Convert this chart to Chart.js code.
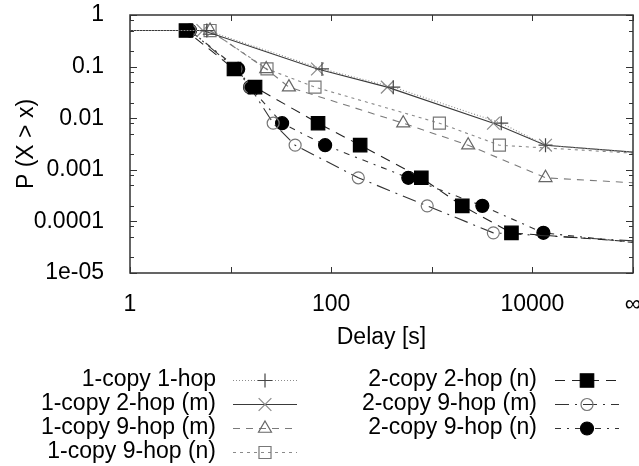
<!DOCTYPE html>
<html>
<head>
<meta charset="utf-8">
<script src="https://cdn.jsdelivr.net/npm/chart.js@4/dist/chart.umd.min.js"></script>
<style>
  html, body { margin: 0; padding: 0; background: #fff; }
  #wrap { position: relative; width: 639px; height: 466px; }
</style>
</head>
<body>
<div id="wrap"><canvas id="ccdf"></canvas></div>
<script>
// CCDF of delivery delay, one array pair per curve (x = delay in s, y = P(X > x))
// first point = left edge, last point = the "infinity" column
const c1h1X = [1, 5.8, 81, 414, 4900, 13500, 100000];
const c1h1Y = [0.5, 0.5, 0.09, 0.04, 0.008, 0.003, 0.0022];

const c1h2mX = [1, 5.3, 73, 361, 4100, 13500, 100000];
const c1h2mY = [0.5, 0.5, 0.09, 0.04, 0.008, 0.003, 0.0022];

const c1h9mX = [1, 6.25, 22.6, 38, 520, 2300, 13500, 100000];
const c1h9mY = [0.5, 0.5, 0.09, 0.04, 0.008, 0.003, 0.0007, 0.00056];

const c1h9nX = [1, 6.25, 23, 69, 1190, 4700, 100000];
const c1h9nY = [0.5, 0.5, 0.09, 0.04, 0.008, 0.003, 0.0021];

const c2h2nX = [1, 3.6, 10.8, 17.5, 74, 194, 787, 2010, 6190, 100000];
const c2h2nY = [0.5, 0.5, 0.09, 0.04, 0.008, 0.003, 0.0007, 0.0002, 0.00006, 0.00004];

const c2h9mX = [1, 3.95, 11.3, 15.6, 26.5, 43.8, 186, 900, 4090, 100000];
const c2h9mY = [0.5, 0.5, 0.09, 0.04, 0.008, 0.003, 0.0007, 0.0002, 0.00006, 0.000042];

const c2h9nX = [1, 3.95, 11.9, 15.6, 32.5, 87, 584, 3180, 12860, 100000];
const c2h9nY = [0.5, 0.5, 0.09, 0.04, 0.008, 0.003, 0.0007, 0.0002, 0.00006, 0.000039];

const seriesLabels = [
  '1-copy 1-hop', '1-copy 2-hop (m)', '1-copy 9-hop (m)', '1-copy 9-hop (n)',
  '2-copy 2-hop (n)', '2-copy 9-hop (m)', '2-copy 9-hop (n)'
];

const xTickValues = [1, 10, 100, 1000, 10000, 100000];
const xTickLabels = ['1', '', '100', '', '10000', '\u221e'];
const yTickValues = [1, 0.1, 0.01, 0.001, 0.0001, 0.00001];
const yTickLabels = ['1', '0.1', '0.01', '0.001', '0.0001', '1e-05'];
const yMinorSteps = [2, 5, 8];

const FONT = { family: '"Liberation Sans", Arial, Helvetica, sans-serif', size: 23 };

// look of each curve (same order as seriesLabels)
const looks = [
  { line: '#8c8c8c', dash: [1, 2], mark: '#444', bg: 'rgba(0,0,0,0)', style: 'cross', r: 7 },
  { line: '#3a3a3a', dash: [], mark: '#8a8a8a', bg: 'rgba(0,0,0,0)', style: 'crossRot', r: 9 },
  { line: '#7a7a7a', dash: [7, 6], mark: '#666', bg: 'rgba(0,0,0,0)', style: 'triangle', r: 7.5 },
  { line: '#8a8a8a', dash: [3, 4], mark: '#777', bg: 'rgba(0,0,0,0)', style: 'rect', r: 8.5 },
  { line: '#222', dash: [10, 7], mark: '#000', bg: '#000', style: 'rect', r: 9.5 },
  { line: '#333', dash: [14, 6, 2, 6], mark: '#777', bg: 'rgba(0,0,0,0)', style: 'circle', r: 6 },
  { line: '#333', dash: [6, 6, 2, 6], mark: '#000', bg: '#000', style: 'circle', r: 6.5 }
];

const xs = [c1h1X, c1h2mX, c1h9mX, c1h9nX, c2h2nX, c2h9mX, c2h9nX];
const ys = [c1h1Y, c1h2mY, c1h9mY, c1h9nY, c2h2nY, c2h9mY, c2h9nY];

function toPoints(xArr, yArr) {
  return xArr.map((v, i) => ({ x: v, y: yArr[i] }));
}

// no marker on the first (left edge) and last (infinity) point
function markerSize(r) {
  return c => (c.dataIndex === 0 || c.dataIndex === c.dataset.data.length - 1) ? 0 : r;
}

const datasets = seriesLabels.map((label, i) => ({
  label,
  data: toPoints(xs[i], ys[i]),
  borderColor: looks[i].line,
  borderDash: looks[i].dash,
  borderWidth: 1.1,
  pointStyle: looks[i].style,
  pointRadius: markerSize(looks[i].r),
  pointBorderColor: looks[i].mark,
  pointBackgroundColor: looks[i].bg,
  pointBorderWidth: 1.2,
  tension: 0,
  fill: false
}));

function sameValue(a, b) {
  return Math.abs(Math.log10(a) - Math.log10(b)) < 1e-6;
}

// gnuplot style frame with inward ticks
const frameTicks = {
  id: 'frameTicks',
  afterDatasetsDraw(chart) {
    const { ctx, chartArea: a, scales } = chart;
    ctx.save();
    ctx.setLineDash([]);
    ctx.strokeStyle = '#333';
    ctx.lineWidth = 1.5;
    ctx.strokeRect(a.left, a.top, a.right - a.left, a.bottom - a.top);
    ctx.lineWidth = 1;
    ctx.beginPath();
    scales.x.ticks.forEach(t => {
      const px = Math.round(scales.x.getPixelForValue(t.value)) + 0.5;
      ctx.moveTo(px, a.bottom); ctx.lineTo(px, a.bottom - 6);
      ctx.moveTo(px, a.top); ctx.lineTo(px, a.top + 6);
    });
    scales.y.ticks.forEach(t => {
      const major = yTickValues.some(v => sameValue(v, t.value));
      const len = major ? 7 : 4;
      const py = Math.round(scales.y.getPixelForValue(t.value)) + 0.5;
      ctx.moveTo(a.left, py); ctx.lineTo(a.left + len, py);
      ctx.moveTo(a.right, py); ctx.lineTo(a.right - len, py);
    });
    ctx.stroke();
    ctx.restore();
  }
};

// two-column key under the plot
const legendCols = [
  { textRight: 216, lineStart: 233, lineEnd: 297, mark: 265 },
  { textRight: 537, lineStart: 555, lineEnd: 619, mark: 587 }
];
const legendTop = 380;
const legendPitch = 24;

const keyBox = {
  id: 'keyBox',
  afterDraw(chart) {
    const ctx = chart.ctx;
    ctx.save();
    ctx.font = FONT.size + 'px ' + FONT.family;
    ctx.textAlign = 'right';
    ctx.textBaseline = 'middle';
    chart.data.datasets.forEach((ds, i) => {
      const col = i < 4 ? legendCols[0] : legendCols[1];
      const row = i < 4 ? i : i - 4;
      const yy = legendTop + row * legendPitch;
      ctx.fillStyle = '#000';
      ctx.fillText(ds.label, col.textRight, yy);
      ctx.strokeStyle = ds.borderColor;
      ctx.lineWidth = ds.borderWidth;
      ctx.setLineDash(ds.borderDash);
      ctx.beginPath();
      ctx.moveTo(col.lineStart, yy + 0.5);
      ctx.lineTo(col.lineEnd, yy + 0.5);
      ctx.stroke();
      ctx.setLineDash([]);
      ctx.strokeStyle = ds.pointBorderColor;
      ctx.fillStyle = ds.pointBackgroundColor;
      ctx.lineWidth = ds.pointBorderWidth;
      Chart.helpers.drawPoint(ctx, {
        pointStyle: ds.pointStyle, radius: looks[i].r, rotation: 0, borderWidth: ds.pointBorderWidth
      }, col.mark, yy + 0.5);
    });
    ctx.restore();
  }
};

new Chart(document.getElementById('ccdf'), {
  type: 'line',
  data: { datasets },
  options: {
    responsive: true,
    maintainAspectRatio: false,
    devicePixelRatio: 1,
    animation: false,
    layout: { padding: { top: 15, right: 6, bottom: 115, left: 0 } },
    plugins: { legend: { display: false }, tooltip: { enabled: false } },
    scales: {
      x: {
        type: 'logarithmic',
        min: 1,
        max: 100000,
        grid: { display: false },
        border: { display: false },
        afterBuildTicks: s => { s.ticks = xTickValues.map(v => ({ value: v })); },
        afterFit: s => { s.height = 78; s.paddingLeft = 0; s.paddingRight = 0; },
        ticks: {
          autoSkip: false, maxRotation: 0, minRotation: 0, padding: 10,
          color: '#000', font: FONT,
          callback: v => {
            const i = xTickValues.findIndex(t => sameValue(t, v));
            return i < 0 ? '' : xTickLabels[i];
          }
        },
        title: { display: true, text: 'Delay [s]', color: '#000', font: FONT, padding: 0 }
      },
      y: {
        type: 'logarithmic',
        min: 0.00001,
        max: 1,
        grid: { display: false },
        border: { display: false },
        afterBuildTicks: s => {
          const vals = yTickValues.slice();
          yTickValues.forEach(d => yMinorSteps.forEach(m => { if (d * m < 1) vals.push(d * m); }));
          s.ticks = vals.map(v => ({ value: v }));
        },
        afterFit: s => { s.width = 130; s.paddingTop = 0; s.paddingBottom = 0; },
        ticks: {
          autoSkip: false, padding: 18, color: '#000', font: FONT,
          callback: v => {
            const i = yTickValues.findIndex(t => sameValue(t, v));
            return i < 0 ? '' : yTickLabels[i];
          }
        },
        title: { display: true, text: 'P (X > x)', color: '#000', font: FONT, padding: { top: 13, bottom: 0 } }
      }
    }
  },
  plugins: [frameTicks, keyBox]
});
</script>
</body>
</html>
